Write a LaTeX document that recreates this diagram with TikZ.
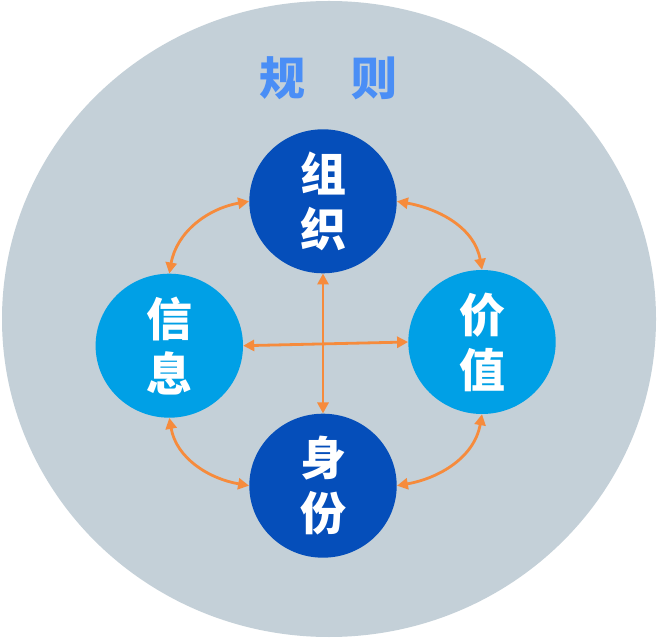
\documentclass[tikz,border=0pt]{standalone}
\usepackage{fontspec}
\newfontfamily\cjk{Noto Sans CJK SC}
\usetikzlibrary{shapes.geometric,arrows.meta}
\definecolor{bggrey}{HTML}{C4D0D8}
\definecolor{darkblue}{HTML}{054EBA}
\definecolor{lightblue}{HTML}{00A0E6}
\definecolor{titleblue}{HTML}{4A8EF6}
\definecolor{arroworange}{HTML}{F68B3C}
\tikzset{
  ball/.style={ellipse, minimum width=147.4pt, minimum height=144pt, inner sep=0pt,
    text=white, font=\cjk\bfseries\fontsize{46pt}{55pt}\selectfont, align=center},
  darkball/.style={ball, fill=darkblue},
  lightball/.style={ball, fill=lightblue},
  link/.style={draw=arroworange, line width=2.8pt, {Triangle[length=11pt,width=11pt]}-{Triangle[length=11pt,width=11pt]}}
}
\begin{document}
\begin{tikzpicture}[x=1pt,y=1pt]
\useasboundingbox (0,0) rectangle (658,640);
\fill[white] (0,0) rectangle (658,640);
\fill[bggrey] (329,321) ellipse [x radius=327pt, y radius=318pt];
\node[text=titleblue, font=\cjk\bfseries\fontsize{46pt}{55pt}\selectfont, inner sep=0pt] (title) at (328,561.5) {规　则};
\node[darkball] (org) at (323,438.7) {组\\织};
\node[lightball] (info) at (169.3,294.3) {信\\息};
\node[lightball] (val) at (482,298) {价\\值};
\node[darkball] (id) at (323,154.3) {身\\份};
\draw[link] (org.west) to[out=190, in=80] (info.north);
\draw[link] (org.east) to[out=-10, in=100] (val.north);
\draw[link] (info.south) to[out=-80, in=170] (id.west);
\draw[link] (val.south) to[out=-100, in=10] (id.east);
\draw[link] (info.east) -- (val.west);
\draw[link] (org.south) -- (id.north);
\end{tikzpicture}
\end{document}
